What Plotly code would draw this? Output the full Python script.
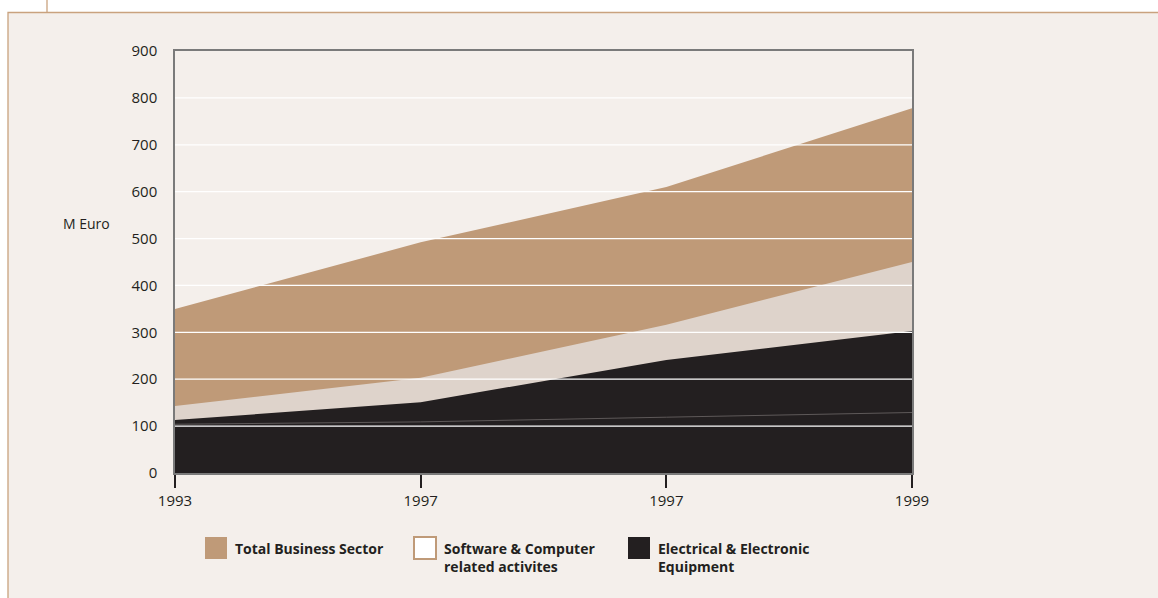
import plotly.graph_objects as go

# ---- data ----
x_labels = ["1993", "1997", "1997", "1999"]
total_business = [350, 492, 610, 778]
software = [143, 203, 316, 450]
electrical = [113, 151, 241, 303]
inner_line = [104, 109, 119, 129]
y_ticks = [0, 100, 200, 300, 400, 500, 600, 700, 800, 900]

W, H = 1158, 598
L, R, T, B = 175, 912, 51, 473  # plot area in pixels

def px(xp):
    return (xp - L) / (R - L)

def py(yp):
    return (B - yp) / (B - T)

TAN = "#bf9a78"
LIGHT = "#ded3cb"
DARK = "#231f20"
BG = "#f4efeb"
FONT = "Open Sans"

xs = list(range(len(x_labels)))

fig = go.Figure()
fig.add_trace(go.Scatter(x=xs, y=total_business, mode="lines", fill="tozeroy",
                         fillcolor=TAN, line=dict(width=0, color=TAN),
                         name="Total Business Sector", showlegend=False, hoverinfo="skip"))
fig.add_trace(go.Scatter(x=xs, y=software, mode="lines", fill="tozeroy",
                         fillcolor=LIGHT, line=dict(width=0, color=LIGHT),
                         name="Software & Computer related activites", showlegend=False, hoverinfo="skip"))
fig.add_trace(go.Scatter(x=xs, y=electrical, mode="lines", fill="tozeroy",
                         fillcolor=DARK, line=dict(width=0, color=DARK),
                         name="Electrical & Electronic Equipment", showlegend=False, hoverinfo="skip"))
fig.add_trace(go.Scatter(x=xs, y=inner_line, mode="lines",
                         line=dict(width=1, color="#5e5959"),
                         showlegend=False, hoverinfo="skip"))

shapes = []
# outer panel
shapes.append(dict(type="rect", xref="paper", yref="paper", layer="below",
                   x0=px(8), x1=px(W + 5), y0=py(12.5), y1=py(H + 5),
                   fillcolor=BG, line=dict(color="#c9a27e", width=1.3)))
shapes.append(dict(type="line", xref="paper", yref="paper", layer="below",
                   x0=px(47), x1=px(47), y0=py(-2), y1=py(12.5),
                   line=dict(color="#c9a27e", width=1.3)))
# white gridlines above areas
for v in y_ticks[1:-1]:
    shapes.append(dict(type="line", xref="paper", yref="y", layer="above",
                       x0=0, x1=1, y0=v, y1=v,
                       line=dict(color="white", width=1.3)))

# legend swatches
sw = 22
legend_items = [
    (205, TAN, TAN, ["Total Business Sector"]),
    (414, "white", TAN, ["Software & Computer", "related activites"]),
    (628, DARK, DARK, ["Electrical & Electronic", "Equipment"]),
]
annotations = []
for x0, fill, border, lines in legend_items:
    shapes.append(dict(type="rect", xref="paper", yref="paper", layer="above",
                       x0=px(x0), x1=px(x0 + sw), y0=py(537), y1=py(537 + sw),
                       fillcolor=fill, line=dict(color=border, width=2 if fill == "white" else 0)))
    annotations.append(dict(xref="paper", yref="paper", x=px(x0 + sw + 6), y=py(537),
                            xanchor="left", yanchor="top", align="left", showarrow=False,
                            text="<br>".join("<b>%s</b>" % t for t in lines),
                            font=dict(family=FONT, size=14, color=DARK)))

annotations.append(dict(xref="paper", yref="paper", x=px(61), y=py(223),
                        xanchor="left", yanchor="middle", showarrow=False,
                        text="M Euro", font=dict(family=FONT, size=14, color=DARK)))

fig.update_layout(
    width=W, height=H,
    margin=dict(l=L, r=W - R, t=T, b=H - B),
    paper_bgcolor="white",
    plot_bgcolor="rgba(0,0,0,0)",
    shapes=shapes,
    annotations=annotations,
    font=dict(family=FONT, size=15, color=DARK),
    xaxis=dict(range=[0, 3], tickvals=xs, ticktext=x_labels,
               showgrid=False, zeroline=False,
               showline=True, mirror=True, linecolor="#7a7a7a", linewidth=1.5,
               ticks="outside", ticklen=13, tickwidth=2, tickcolor=DARK,
               tickfont=dict(family=FONT, size=15, color=DARK)),
    yaxis=dict(range=[0, 900], tickvals=y_ticks,
               showgrid=False, zeroline=False,
               showline=True, mirror=True, linecolor="#7a7a7a", linewidth=1.5,
               ticks="", ticklabelstandoff=13,
               tickfont=dict(family=FONT, size=15, color=DARK)),
)

fig.write_html("out.html")
